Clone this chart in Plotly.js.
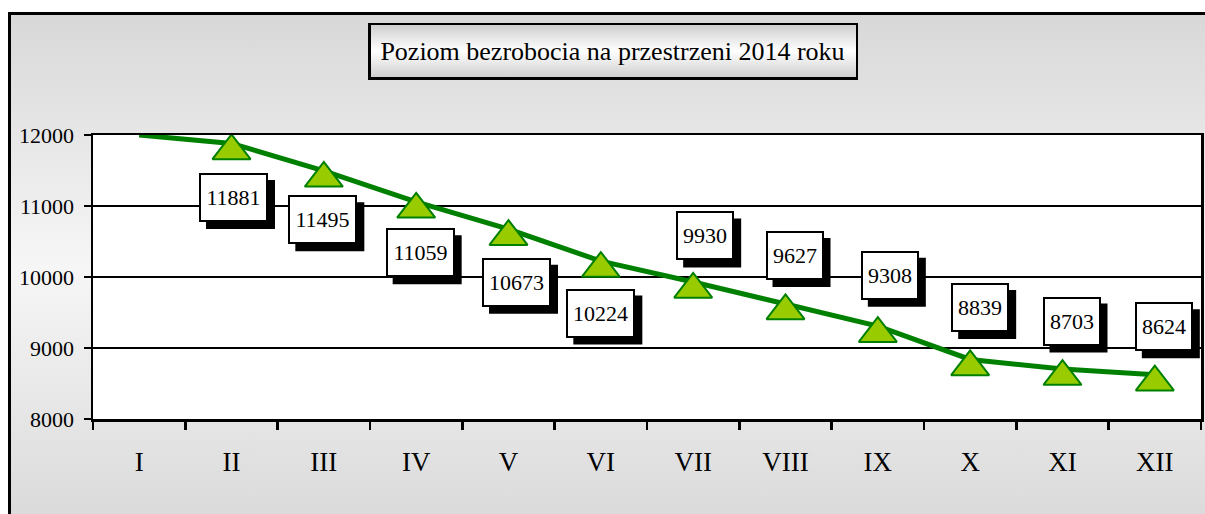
<!DOCTYPE html>
<html>
<head>
<meta charset="utf-8">
<script src="https://cdn.plot.ly/plotly-3.0.1.min.js"></script>
<style>
  html, body { margin: 0; padding: 0; background: #ffffff; }
  #wrap { position: relative; width: 1205px; height: 514px; overflow: hidden; }
  #frame { position: absolute; left: 8px; top: 12px; width: 1220px; height: 530px;
           border: 3px solid #000; box-sizing: border-box;
           background: linear-gradient(to bottom, #d8d8d8 0%, #f6f6f6 48%, #d8d8d8 100%); }
  #titlebox { position: absolute; left: 368px; top: 23px; width: 490px; height: 57px;
              border: 2px solid #000; border-left-width: 3px; border-bottom-width: 3px; box-sizing: border-box;
              background: linear-gradient(to bottom, #cfcfcf 0%, #ffffff 50%, #cfcfcf 100%); }
  #chart { position: absolute; left: 0; top: 0; width: 1205px; height: 514px; }
</style>
</head>
<body>
<div id="wrap">
  <div id="frame"></div>
  <div id="titlebox"></div>
  <div id="chart"></div>
</div>
<script>
// ---- data ----
const months = ['I', 'II', 'III', 'IV', 'V', 'VI', 'VII', 'VIII', 'IX', 'X', 'XI', 'XII'];
const unemployed = [12000, 11881, 11495, 11059, 10673, 10224, 9930, 9627, 9308, 8839, 8703, 8624];
const yTicks = [8000, 9000, 10000, 11000, 12000];
const chartTitle = 'Poziom bezrobocia na przestrzeni 2014 roku';

// ---- label placement (pixel offsets of each value box from its point) ----
const labelDx = [0, 2, -1, 4, 8, 0, 12, 9, 12, 10, 9, 9];
const labelDy = [0, -54, -49, -51, -53, -52, 46, 48, 51, 52, 48, 48];

const FONT = 'Liberation Serif, Times New Roman, serif';
const GREEN = '#008000';
const LIME = '#99cc00';

const lineTrace = {
  type: 'scatter', mode: 'lines',
  x: months, y: unemployed,
  line: { color: GREEN, width: 5 },
  hoverinfo: 'skip', showlegend: false
};
const markerTrace = {
  type: 'scatter', mode: 'markers',
  x: months.slice(1), y: unemployed.slice(1),
  marker: { symbol: 'triangle-up', size: 33, color: LIME, standoff: 7.5,
            line: { color: GREEN, width: 2 } },
  cliponaxis: false, hoverinfo: 'skip', showlegend: false
};

const annotations = [];
const shapes = [];
const SHADOW = 7, BOXH = 49;
months.forEach((m, i) => {
  if (i === 0) return;
  const txt = String(unemployed[i]);
  const w = txt.length >= 5 ? 63 : 52;
  const outerW = w + 6;
  const cx = labelDx[i] + SHADOW, cy = labelDy[i] - SHADOW;
  shapes.push({
    type: 'rect', layer: 'above', xref: 'x', yref: 'y',
    xsizemode: 'pixel', ysizemode: 'pixel', xanchor: m, yanchor: unemployed[i],
    x0: cx - outerW / 2, x1: cx + outerW / 2, y0: cy - BOXH / 2, y1: cy + BOXH / 2,
    fillcolor: '#000', line: { width: 0 }
  });
  annotations.push({
    x: m, y: unemployed[i], xref: 'x', yref: 'y', showarrow: false,
    text: txt, xshift: labelDx[i], yshift: labelDy[i],
    width: w, height: 43, borderpad: 1, borderwidth: 2,
    bgcolor: '#fff', bordercolor: '#000',
    font: { family: FONT, size: 22, color: '#000' }
  });
});

const layout = {
  width: 1205, height: 514,
  margin: { l: 93, r: 4, t: 135, b: 95 },
  paper_bgcolor: 'rgba(0,0,0,0)',
  plot_bgcolor: '#ffffff',
  title: { text: chartTitle, xref: 'container', yref: 'container',
           x: 612.5 / 1205, y: 1 - 51 / 514, xanchor: 'center', yanchor: 'middle',
           font: { family: FONT, size: 26, color: '#000' } },
  xaxis: {
    type: 'category', range: [-0.5, 11.5],
    showgrid: false, showline: true, linecolor: '#000', linewidth: 2.5, mirror: true,
    ticks: 'outside', tickson: 'boundaries', ticklen: 8, tickwidth: 2.5, tickcolor: '#000',
    ticklabelstandoff: 17,
    tickfont: { family: FONT, size: 27, color: '#000' }
  },
  yaxis: {
    range: [8000, 12000], tickvals: yTicks, ticktext: yTicks.map(String),
    showgrid: true, gridcolor: '#000', gridwidth: 2,
    showline: true, linecolor: '#000', linewidth: 2.5, mirror: true,
    ticks: 'outside', ticklen: 7, tickwidth: 2.5, tickcolor: '#000',
    ticklabelstandoff: 5, zeroline: false,
    tickfont: { family: FONT, size: 22, color: '#000' }
  },
  shapes: shapes,
  annotations: annotations,
  showlegend: false
};

Plotly.newPlot('chart', [lineTrace, markerTrace], layout, { displayModeBar: false, staticPlot: true });
</script>
</body>
</html>
